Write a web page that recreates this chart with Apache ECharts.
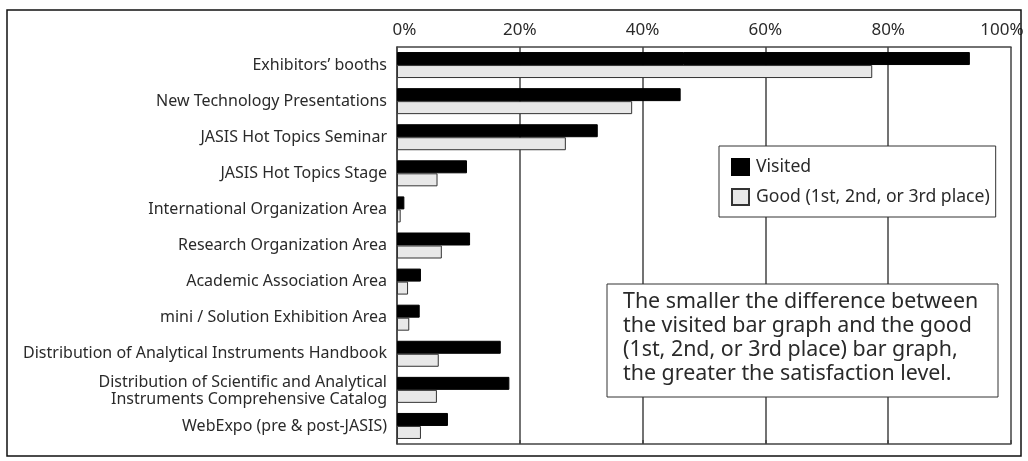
<!DOCTYPE html>
<html>
<head>
<meta charset="utf-8">
<script src="https://cdn.jsdelivr.net/npm/echarts@6/dist/echarts.min.js"></script>
<style>
html,body{margin:0;padding:0;background:#fff;}
#c{width:1028px;height:461px;}
</style>
</head>
<body>
<div id="c"></div>
<script>
const categories = [
  "Exhibitors’ booths",
  "New Technology Presentations",
  "JASIS Hot Topics Seminar",
  "JASIS Hot Topics Stage",
  "International Organization Area",
  "Research Organization Area",
  "Academic Association Area",
  "mini / Solution Exhibition Area",
  "Distribution of Analytical Instruments Handbook",
  "Distribution of Scientific and Analytical\nInstruments Comprehensive Catalog",
  "WebExpo (pre & post-JASIS)"
];
const visited = [93.3, 46.2, 32.7, 11.4, 1.2, 11.9, 3.9, 3.7, 16.9, 18.3, 8.3];
const good = [77.4, 38.3, 27.5, 6.6, 0.6, 7.3, 1.8, 2.0, 6.8, 6.5, 3.9];
const tickValues = [0, 20, 40, 60, 80, 100];
const seriesNames = ["Visited", "Good (1st, 2nd, or 3rd place)"];
const noteText = "The smaller the difference between\nthe visited bar graph and the good\n(1st, 2nd, or 3rd place) bar graph,\nthe greater the satisfaction level.";

const FONT = "'Noto Sans', sans-serif";
const TXT = '#2a2a2a';
const chart = echarts.init(document.getElementById('c'), null, {renderer: 'canvas'});
chart.setOption({
  animation: false,
  backgroundColor: '#fff',
  textStyle: {fontFamily: FONT},
  grid: {left: 397, right: 17, top: 47, bottom: 17, containLabel: false},
  xAxis: [{
    type: 'value', position: 'top', min: tickValues[0], max: tickValues[tickValues.length - 1], interval: 20,
    axisLine: {show: true, lineStyle: {color: '#444', width: 1.5}},
    axisTick: {show: false},
    splitLine: {show: true, lineStyle: {color: '#444', width: 1.5}},
    axisLabel: {
      color: TXT, fontSize: 17, fontFamily: FONT, margin: 8,
      formatter: function (v) {
        if (v === 100) return '{r|' + v + '%}';
        if (v === 0) return '{l|' + v + '%}';
        return v + '%';
      },
      rich: {
        r: {fontSize: 17, color: TXT, fontFamily: FONT, padding: [0, 18, 0, 0]},
        l: {fontSize: 17, color: TXT, fontFamily: FONT, padding: [0, 0, 0, 15]}
      }
    }
  }, {
    type: 'value', position: 'bottom', min: 0, max: 100, interval: 20,
    axisLine: {show: true, lineStyle: {color: '#444', width: 1.5}},
    axisTick: {show: true, inside: true, length: 4, lineStyle: {color: '#444', width: 1.5}},
    axisLabel: {show: false}, splitLine: {show: false}
  }],
  yAxis: {
    type: 'category', data: categories, inverse: true,
    axisLine: {show: true, lineStyle: {color: '#444', width: 1.5}},
    axisTick: {show: false},
    axisLabel: {
      color: TXT, fontSize: 16, fontFamily: FONT, margin: 10, lineHeight: 17, align: 'right',
      formatter: function (v) {
        return v.indexOf('\n') >= 0 ? v.split('\n').map(function (s) { return '{c|' + s + '}'; }).join('\n') : v;
      },
      rich: {c: {fontSize: 16, color: TXT, fontFamily: FONT, lineHeight: 17, padding: [3, 0, 0, 0], align: 'right'}}
    }
  },
  legend: {
    orient: 'vertical', left: 719, top: 146,
    padding: [12, 6, 11, 12],
    itemWidth: 17, itemHeight: 16, itemGap: 12,
    backgroundColor: '#fff', borderColor: '#333', borderWidth: 1,
    textStyle: {color: TXT, fontSize: 17.6, fontFamily: FONT, lineHeight: 16, padding: [0, 0, 0, 2]},
    icon: 'rect',
    data: seriesNames
  },
  series: [{
    name: seriesNames[0], type: 'bar', data: visited, barWidth: 13, barGap: '0%',
    itemStyle: {color: '#000', borderColor: '#000', borderWidth: 1}
  }, {
    name: seriesNames[1], type: 'bar', data: good, barWidth: 13, barGap: '0%',
    itemStyle: {color: '#e8e8e8', borderColor: '#333', borderWidth: 1}
  }],
  graphic: [{
    type: 'rect', z: 100,
    shape: {x: 7, y: 10, width: 1014, height: 446},
    style: {fill: 'none', stroke: '#111', lineWidth: 1.5}
  }, {
    type: 'rect', z: 100,
    shape: {x: 607, y: 284, width: 391, height: 113},
    style: {fill: '#fff', stroke: '#333', lineWidth: 1}
  }, {
    type: 'text', z: 101, x: 623, y: 290,
    style: {text: noteText, fill: TXT, fontSize: 21.4, fontFamily: FONT, lineHeight: 24}
  }]
});
</script>
</body>
</html>
